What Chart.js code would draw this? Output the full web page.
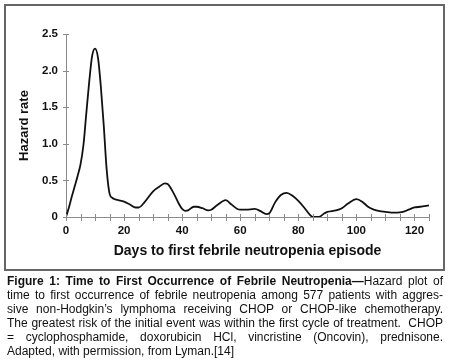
<!DOCTYPE html>
<html>
<head>
<meta charset="utf-8">
<script src="https://cdn.jsdelivr.net/npm/chart.js@4/dist/chart.umd.min.js"></script>
<style>
  html, body { margin: 0; padding: 0; background: #fff; }
  body { width: 450px; height: 362px; position: relative; overflow: hidden; font-family: "Liberation Sans", Arial, sans-serif; }
  #chart { position: absolute; left: 0; top: 0; }
  #frame { position: absolute; left: 4px; top: 4px; width: 437px; height: 263px; border: 2px solid #666; pointer-events: none; }
  #caption { position: absolute; left: 7px; top: 275px; width: 436px; font-size: 12px; line-height: 13.9px; color: #111; }
  #caption div { white-space: nowrap; text-align: justify; text-align-last: justify; }
  #caption div.last { text-align-last: left; }
</style>
</head>
<body>
<canvas id="chart" width="450" height="272"></canvas>
<div id="frame"></div>
<div id="caption">
  <div><b>Figure 1: Time to First Occurrence of Febrile Neutropenia—</b>Hazard plot of</div>
  <div>time to first occurrence of febrile neutropenia among 577 patients with aggres-</div>
  <div>sive non-Hodgkin’s lymphoma receiving CHOP or CHOP-like chemotherapy.</div>
  <div>The greatest risk of the initial event was within the first cycle of treatment.&nbsp; CHOP</div>
  <div>= cyclophosphamide, doxorubicin HCl, vincristine (Oncovin), prednisone.</div>
  <div class="last">Adapted, with permission, from Lyman.[14]</div>
</div>
<script>
// hazard curve
const days = [0, 1, 2, 3, 4, 5, 6, 7, 8, 9, 10, 11, 12, 13, 14, 15, 16, 17, 18, 20,
  22, 24, 25, 27, 30, 32, 34, 35, 37, 39, 40, 41, 42, 44, 45, 47, 49, 50, 52, 55,
  57, 59, 60, 62, 65, 67, 69, 70, 72, 74, 76, 78, 80, 82, 84, 85, 87, 89, 90, 93,
  95, 97, 100, 102, 104, 106, 108, 110, 112, 114, 116, 118, 120, 122, 125];
const hazard = [0, 0.13, 0.28, 0.42, 0.56, 0.72, 0.98, 1.42, 1.85, 2.2, 2.3, 2.18, 1.78, 1.25, 0.65, 0.32, 0.26, 0.24, 0.23, 0.21,
  0.17, 0.13, 0.13, 0.2, 0.35, 0.41, 0.46, 0.45, 0.33, 0.17, 0.11, 0.085, 0.09, 0.14, 0.14, 0.12, 0.09, 0.1, 0.16, 0.23,
  0.17, 0.11, 0.1, 0.1, 0.11, 0.08, 0.04, 0.05, 0.2, 0.3, 0.33, 0.29, 0.22, 0.13, 0.03, 0, 0, 0.05, 0.07, 0.09,
  0.12, 0.18, 0.245, 0.21, 0.14, 0.1, 0.08, 0.07, 0.06, 0.06, 0.07, 0.1, 0.13, 0.14, 0.16];
const xLabelEvery = 20;
const yTickLabels = ['0', '0.5', '1.0', '1.5', '2.0', '2.5'];

const axisGray = '#8a8a8a';

// small tick marks crossing the axes
const crossTicks = {
  id: 'crossTicks',
  afterDatasetsDraw(chart) {
    const { ctx, scales: { x, y } } = chart;
    ctx.save();
    ctx.strokeStyle = axisGray;
    ctx.lineWidth = 1;
    ctx.beginPath();
    x.ticks.forEach(t => {
      const px = Math.round(x.getPixelForValue(t.value)) + 0.5;
      ctx.moveTo(px, y.bottom - 3);
      ctx.lineTo(px, y.bottom + 4);
    });
    y.ticks.forEach(t => {
      const py = Math.round(y.getPixelForValue(t.value)) + 0.5;
      ctx.moveTo(x.left - 3, py);
      ctx.lineTo(x.left + 3, py);
    });
    ctx.stroke();
    ctx.restore();
  }
};

new Chart(document.getElementById('chart').getContext('2d'), {
  type: 'line',
  data: {
    datasets: [{
      data: days.map((d, i) => ({ x: d, y: hazard[i] })),
      borderColor: '#111',
      borderWidth: 1.8,
      pointRadius: 0,
      fill: false,
      cubicInterpolationMode: 'monotone',
    }],
  },
  options: {
    responsive: false,
    animation: false,
    devicePixelRatio: 1,
    layout: { padding: { left: 0, top: 34, right: 21, bottom: 0 } },
    plugins: { legend: { display: false }, tooltip: { enabled: false } },
    scales: {
      x: {
        type: 'linear',
        min: 0,
        max: 125,
        afterFit: s => { s.height = 55; },
        afterBuildTicks: s => { s.ticks = []; for (let v = 0; v <= 125; v += 5) s.ticks.push({ value: v }); },
        grid: { display: false, drawTicks: false },
        border: { display: true, color: axisGray, width: 1 },
        ticks: {
          padding: 7,
          autoSkip: false,
          maxRotation: 0,
          color: '#111',
          font: { family: 'Liberation Sans', size: 11.5, weight: 'bold' },
          callback: v => (v % xLabelEvery === 0 ? String(v) : ''),
        },
        title: {
          display: true,
          text: 'Days to first febrile neutropenia episode',
          color: '#111',
          font: { family: 'Liberation Sans', size: 14, weight: 'bold' },
          padding: { top: 0, bottom: 12 },
        },
      },
      y: {
        min: 0,
        max: 2.5,
        afterFit: s => { s.width = 66; },
        afterBuildTicks: s => { s.ticks = yTickLabels.map((_, i) => ({ value: i * 0.5 })); },
        grid: { display: false, drawTicks: false },
        border: { display: true, color: axisGray, width: 1 },
        ticks: {
          padding: 8,
          color: '#111',
          font: { family: 'Liberation Sans', size: 11.5, weight: 'bold' },
          callback: (v, i) => yTickLabels[i],
        },
        title: {
          display: true,
          text: 'Hazard rate',
          color: '#111',
          font: { family: 'Liberation Sans', size: 13, weight: 'bold' },
          padding: { top: 17, bottom: 0 },
        },
      },
    },
  },
  plugins: [crossTicks],
});
</script>
</body>
</html>
